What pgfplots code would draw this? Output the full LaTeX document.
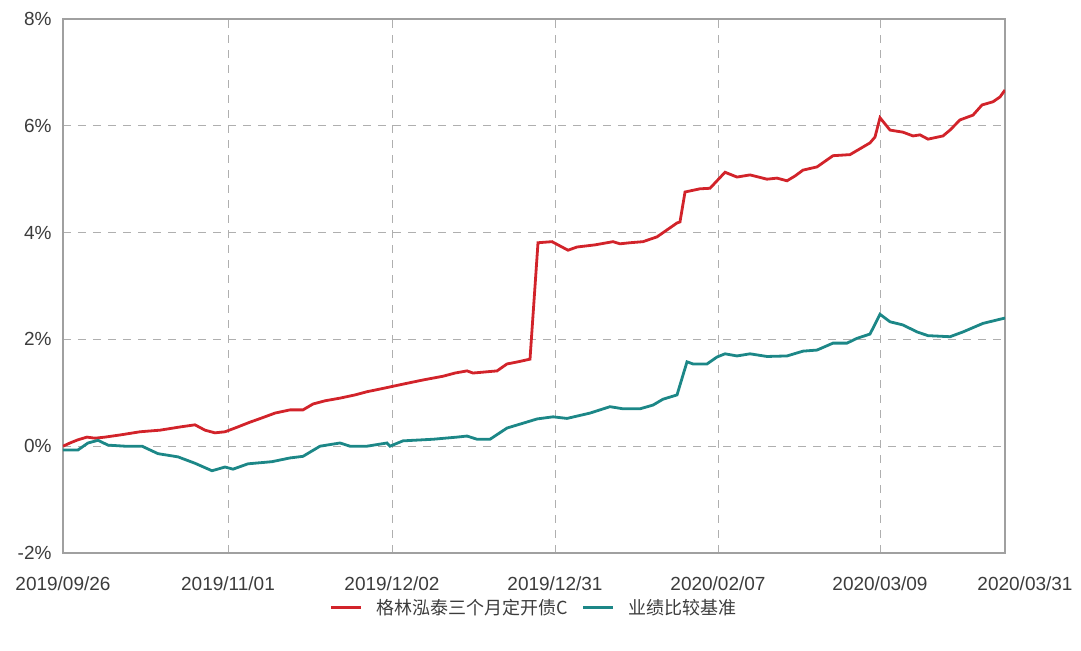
\documentclass[border=0pt]{standalone}
\usepackage{pgfplots}
\pgfplotsset{compat=1.18}
\usepackage{fontspec}
\setmainfont{Liberation Sans}
\newfontfamily\cjk{Noto Sans CJK SC}
\definecolor{fundred}{RGB}{210,35,42}
\definecolor{benchteal}{RGB}{28,135,135}
\definecolor{gridgray}{RGB}{175,175,175}
\definecolor{axisgray}{RGB}{160,160,160}
\definecolor{labelgray}{RGB}{60,60,60}
\begin{document}
\begin{tikzpicture}
\begin{axis}[
  scale only axis,
  width=942pt, height=534pt,
  xmin=63, xmax=1005, ymin=-2, ymax=8,
  axis line style={draw=axisgray, line width=1.4pt},
  major tick length=0pt,
  xtick={63,228,392,555,718,880},
  xticklabels={2019/09/26,2019/11/01,2019/12/02,2019/12/31,2020/02/07,2020/03/09},
  extra x ticks={1005},
  extra x tick labels={2020/03/31},
  extra x tick style={grid=none, xticklabel style={xshift=20pt}},
  ytick={-2,0,2,4,6,8},
  yticklabels={-2\%,0\%,2\%,4\%,6\%,8\%},
  xticklabel style={font=\fontsize{19}{22}\selectfont, text=labelgray, yshift=-20pt},
  yticklabel style={font=\fontsize{19}{22}\selectfont, text=labelgray, xshift=-8pt},
  grid=major,
  major grid style={draw=gridgray, dash pattern=on 8pt off 7pt, line width=1pt},
  legend style={at={(0.5,-0.103)}, anchor=center, draw=none, fill=none,
    font=\cjk\fontsize{18}{20}\selectfont, text=labelgray,
    legend columns=2, column sep=12pt},
  legend image code/.code={\draw[#1, line width=3pt] (0pt,0pt) -- (30pt,0pt);},
]
\addplot[fundred, line width=2.8pt] coordinates {
(63,0.0)(70,0.06)(78,0.12)(87,0.17)(95,0.15)(105,0.17)(120,0.21)(140,0.27)
(160,0.30)(180,0.36)(195,0.40)(205,0.30)(215,0.25)(225,0.27)(235,0.34)(250,0.45)
(262,0.53)(275,0.62)(290,0.68)(303,0.68)(313,0.79)(325,0.85)(340,0.90)(355,0.96)
(367,1.02)(380,1.07)(390,1.11)(405,1.17)(423,1.24)(443,1.31)(455,1.37)(467,1.41)
(473,1.37)(485,1.39)(497,1.41)(507,1.54)(518,1.58)(530,1.63)(538,3.81)(552,3.83)
(560,3.75)(568,3.67)(577,3.73)(595,3.77)(613,3.83)(620,3.79)(630,3.81)(643,3.83)
(657,3.92)(667,4.05)(677,4.18)(680,4.20)(685,4.76)(700,4.82)(710,4.83)(725,5.13)
(737,5.04)(750,5.08)(767,5.00)(777,5.02)(787,4.97)(795,5.06)(803,5.17)(817,5.23)
(833,5.44)(850,5.46)(860,5.57)(870,5.68)(875,5.79)(880,6.15)(890,5.92)(903,5.88)
(913,5.81)(920,5.83)(928,5.75)(943,5.81)(950,5.92)(960,6.11)(973,6.20)(982,6.39)
(993,6.45)(1000,6.54)(1005,6.67)
};
\addlegendentry{格林泓泰三个月定开债C}
\addplot[benchteal, line width=2.8pt] coordinates {
(63,-0.07)(78,-0.07)(88,0.06)(98,0.11)(108,0.02)(125,0.0)(142,0.0)(158,-0.14)
(178,-0.20)(195,-0.32)(212,-0.46)(225,-0.39)(233,-0.43)(248,-0.33)(272,-0.29)
(290,-0.22)(303,-0.19)(320,0.0)(340,0.06)(350,0.0)(367,0.0)(387,0.06)(390,0.0)
(403,0.10)(433,0.13)(457,0.17)(467,0.19)(477,0.13)(490,0.13)(507,0.34)(523,0.43)
(537,0.51)(553,0.55)(567,0.52)(590,0.62)(610,0.74)(623,0.70)(640,0.70)(653,0.77)
(663,0.88)(677,0.96)(687,1.58)(693,1.54)(707,1.54)(717,1.67)(725,1.73)(737,1.69)
(750,1.73)(767,1.68)(787,1.69)(803,1.78)(817,1.80)(833,1.93)(847,1.93)(857,2.02)
(870,2.10)(880,2.47)(890,2.33)(903,2.27)(917,2.14)(928,2.07)(950,2.05)(963,2.14)
(983,2.30)(1005,2.40)
};
\addlegendentry{业绩比较基准}
\end{axis}
\path (current axis.south west) ++(-63pt,-98pt) coordinate (bbsw);
\path (current axis.north east) ++(76pt,19pt) coordinate (bbne);
\path (bbsw) rectangle (bbne);
\end{tikzpicture}
\end{document}
